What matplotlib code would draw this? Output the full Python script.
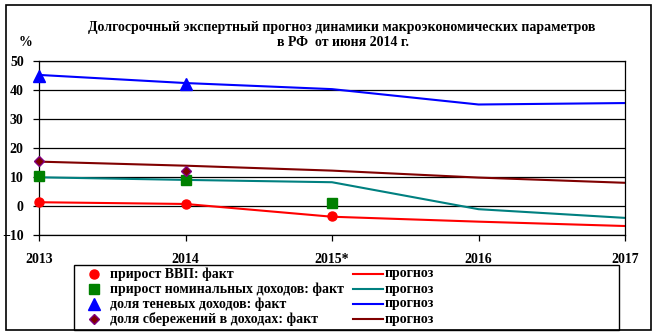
import matplotlib.pyplot as plt
import matplotlib.patches as patches

plt.rcParams["font.family"] = ["Liberation Serif", "DejaVu Serif"]
plt.rcParams["font.weight"] = "bold"

# --- data ---
years = [2013, 2014, 2015, 2016, 2017]
year_labels = ["2013", "2014", "2015*", "2016", "2017"]

gdp_fact = [1.5, 0.7, -3.6]
gdp_fcst = [1.3, 0.7, -3.7, -5.4, -6.9]

income_fact = [10.3, 9.0, 1.1]
income_fcst = [9.9, 9.0, 8.2, -1.1, -4.1]

shadow_fact = [45.0, 42.0]
shadow_fcst = [45.2, 42.4, 40.3, 35.0, 35.5]

savings_fact = [15.5, 12.2]
savings_fcst = [15.3, 13.9, 12.2, 9.8, 8.0]

fact_labels = [
    "прирост ВВП: факт",
    "прирост номинальных доходов: факт",
    "доля теневых доходов: факт",
    "доля сбережений в доходах: факт",
]
fcst_label = "прогноз"

RED = "#ff0000"
TEAL = "#008080"
BLUE = "#0000ff"
MAROON = "#800000"
GREEN = "#008000"

fact_styles = [
    dict(marker="o", ms=6.5, mfc=RED, mec=RED),
    dict(marker="s", ms=7, mfc=GREEN, mec=GREEN),
    dict(marker="^", ms=8, mfc=BLUE, mec=BLUE),
    dict(marker="D", ms=5.5, mfc=MAROON, mec="#800080", mew=1),
]
line_colors = [RED, TEAL, BLUE, MAROON]
facts = [gdp_fact, income_fact, shadow_fact, savings_fact]
fcsts = [gdp_fcst, income_fcst, shadow_fcst, savings_fcst]

FS = 10
W, H = 657, 336
fig = plt.figure(figsize=(W / 100, H / 100), dpi=100)
fig.patch.set_facecolor("white")


def fx(px):
    return px / W


def fy(py):
    return 1 - py / H


# outer frame
fig.patches.append(patches.Rectangle((fx(6), fy(330)), fx(651) - fx(6), fy(5) - fy(330),
                                     transform=fig.transFigure, fill=False,
                                     edgecolor="black", linewidth=1.2))

ax = fig.add_axes([fx(39), fy(235), fx(625) - fx(39), fy(61) - fy(235)])

for fc, c in zip(fcsts, line_colors):
    ax.plot(years, fc, color=c, linewidth=1.5, zorder=2, solid_capstyle="butt")
for fa, st in zip(facts, fact_styles):
    ax.plot(years[:len(fa)], fa, linestyle="none", zorder=3, clip_on=False, **st)

ax.set_xlim(2013, 2017)
ax.set_ylim(-10, 50)
ax.set_yticks(range(-10, 51, 10))
ax.set_xticks(years)
ax.set_xticklabels(year_labels)
ax.grid(axis="y", color="black", linewidth=0.9)
ax.set_axisbelow(True)
for s in ax.spines.values():
    s.set_linewidth(0.9)
ax.tick_params(axis="both", direction="out", length=4, width=0.9, labelsize=FS)
ax.tick_params(axis="x", pad=9)
ax.tick_params(axis="y", pad=7)

fig.text(fx(25), fy(42), "%", fontsize=FS, ha="center", va="center")
fig.text(fx(342), fy(27), "Долгосрочный экспертный прогноз динамики макроэкономических параметров",
         fontsize=FS, ha="center", va="center")
fig.text(fx(343), fy(43), "в РФ  от июня 2014 г.", fontsize=FS, ha="center", va="center")

# legend box
fig.patches.append(patches.Rectangle((fx(74), fy(330)), fx(619) - fx(74), fy(265) - fy(330),
                                     transform=fig.transFigure, fill=False,
                                     edgecolor="black", linewidth=1.0))
lax = fig.add_axes([0, 0, 1, 1], facecolor="none")
lax.set_xlim(0, W)
lax.set_ylim(H, 0)
lax.axis("off")
rows = [274, 289, 304, 319]
for y, lab, st, c in zip(rows, fact_labels, fact_styles, line_colors):
    lax.plot([94], [y], linestyle="none", **st)
    lax.text(110, y, lab, fontsize=FS, va="center", ha="left")
    lax.plot([353, 383], [y, y], color=c, linewidth=1.5)
    lax.text(385, y, fcst_label, fontsize=FS, va="center", ha="left")

fig.savefig("out.png", dpi=100)
